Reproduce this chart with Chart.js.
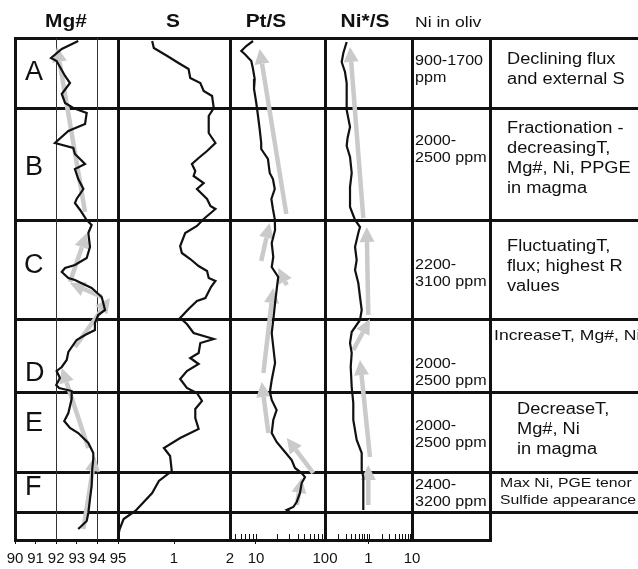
<!DOCTYPE html>
<html>
<head>
<meta charset="utf-8">
<script src="https://cdn.jsdelivr.net/npm/chart.js@4.4.0/dist/chart.umd.min.js"></script>
<style>
  body { margin: 0; background: #fff; }
  #fig { position: relative; width: 638px; height: 569px; overflow: hidden;
         font-family: "Liberation Sans", Arial, sans-serif; color: #111; }
  #fig canvas { position: absolute; left: 0; top: 0; }
  .ln { position: absolute; background: #111; }
  .tx { position: absolute; white-space: nowrap; transform-origin: 0 0; }
  .hd { font-weight: bold; font-size: 18.5px; line-height: 1; width: 80px; text-align: center;
        transform-origin: 50% 0; transform: scaleX(1.13); }
  .big { font-size: 27px; line-height: 1; }
  .oliv { font-size: 14px; line-height: 17px; transform: scaleX(1.15); }
  .desc { font-size: 16px; line-height: 20px; transform: scaleX(1.14); }
</style>
</head>
<body>
<div id="fig">
  <div id="rules"></div>
  <canvas id="mgChart" width="638" height="569"></canvas>
  <canvas id="sChart" width="638" height="569"></canvas>
  <canvas id="ptChart" width="638" height="569"></canvas>
  <canvas id="niChart" width="638" height="569"></canvas>

  <div class="tx hd" style="left:26px;top:12px">Mg#</div>
  <div class="tx hd" style="left:133px;top:12px">S</div>
  <div class="tx hd" style="left:226px;top:12px">Pt/S</div>
  <div class="tx hd" style="left:325px;top:12px">Ni*/S</div>
  <div class="tx" style="left:415px;top:13px;font-size:15px;line-height:1.2;transform:scaleX(1.17)">Ni in oliv</div>

  <div class="tx big" style="left:25px;top:58px">A</div>
  <div class="tx big" style="left:25px;top:153px">B</div>
  <div class="tx big" style="left:24px;top:251px">C</div>
  <div class="tx big" style="left:25px;top:359px">D</div>
  <div class="tx big" style="left:25px;top:409px">E</div>
  <div class="tx big" style="left:25px;top:473px">F</div>

  <div class="tx oliv" style="left:415px;top:52px">900-1700<br>ppm</div>
  <div class="tx oliv" style="left:415px;top:132px">2000-<br>2500 ppm</div>
  <div class="tx oliv" style="left:415px;top:256px">2200-<br>3100 ppm</div>
  <div class="tx oliv" style="left:415px;top:355px">2000-<br>2500 ppm</div>
  <div class="tx oliv" style="left:415px;top:417px">2000-<br>2500 ppm</div>
  <div class="tx oliv" style="left:415px;top:476px">2400-<br>3200 ppm</div>

  <div class="tx desc" style="left:507px;top:49px">Declining flux<br>and external S</div>
  <div class="tx desc" style="left:507px;top:118px">Fractionation -<br>decreasingT,<br>Mg#, Ni, PPGE<br>in magma</div>
  <div class="tx desc" style="left:507px;top:236px">FluctuatingT,<br>flux; highest R<br>values</div>
  <div class="tx" style="left:494px;top:326px;font-size:15px;line-height:18px;transform:scaleX(1.17)">IncreaseT, Mg#, Ni</div>
  <div class="tx desc" style="left:517px;top:399px">DecreaseT,<br>Mg#, Ni<br>in magma</div>
  <div class="tx" style="left:500px;top:475px;font-size:13.5px;line-height:16.7px;transform:scaleX(1.17)">Max Ni, PGE tenor<br>Sulfide appearance</div>
</div>

<script>
// Depth down the section: 0 at the top rule, 502 at the base
const DEPTH_MAX = 502;
const AXIS_H = 24;
const ARROW_GREY = '#cacaca';

// Mg# of olivine
const mgNum = [93.07, 92.27, 91.75, 92.02, 92.43, 92.67, 92.27, 92.43, 92.83, 93.48,
  93.40, 92.59, 91.94, 92.83, 92.91, 93.40, 92.91, 93.07, 93.32, 92.99,
  92.91, 93.16, 93.48, 93.72, 93.56, 93.64, 93.48, 92.91, 92.43, 92.27,
  92.59, 92.91, 93.72, 94.21, 94.37, 94.04, 93.88, 93.88, 93.40, 92.99,
  92.59, 92.51, 92.27, 92.02, 92.18, 92.00, 92.14, 92.75, 92.75, 92.59,
  92.39, 92.67, 93.07, 93.56, 93.80, 93.80, 93.75, 93.72, 93.64, 93.56,
  93.48, 93.07];
const mgDepth = [3, 11, 20, 23, 38, 45, 56, 65, 70, 75,
  86, 93, 105, 110, 116, 126, 131, 141, 151, 161,
  165, 172, 182, 187, 195, 209, 220, 227, 230, 234,
  240, 242, 250, 259, 272, 277, 285, 292, 297, 302,
  314, 322, 329, 333, 340, 347, 350, 353, 361, 375,
  383, 390, 395, 405, 415, 421, 431, 448, 461, 475,
  483, 491];
// [from Mg#, from depth, to Mg#, to depth]
const mgTrends = [[93.40, 174, 92.04, 9], [92.67, 244, 93.48, 195], [94.21, 259, 92.67, 245],
  [92.91, 309, 94.61, 260], [93.56, 410, 92.27, 330], [93.32, 491, 93.88, 418]];

// S content
const sulfur = [0.61, 0.64, 0.88, 1.08, 1.26, 1.29, 1.47, 1.53, 1.68, 1.71,
  1.62, 1.62, 1.74, 1.59, 1.44, 1.32, 1.38, 1.35, 1.53, 1.41,
  1.59, 1.65, 1.74, 1.53, 1.41, 1.20, 1.11, 1.14, 1.29, 1.44,
  1.59, 1.62, 1.74, 1.66, 1.56, 1.41, 1.26, 1.11, 1.23, 1.35,
  1.71, 1.47, 1.44, 1.29, 1.44, 1.23, 1.11, 1.23, 1.41, 1.50,
  1.38, 1.38, 1.44, 1.11, 0.82, 0.93, 0.96, 0.73, 0.61, 0.31,
  0.10, 0.03, 0.01];
const sDepth = [3, 10, 18, 25, 31, 40, 45, 53, 58, 70,
  78, 95, 105, 113, 120, 126, 133, 138, 145, 151,
  161, 168, 171, 181, 188, 195, 208, 215, 221, 228,
  233, 240, 243, 249, 260, 263, 271, 280, 286, 295,
  301, 305, 315, 320, 326, 333, 341, 350, 355, 363,
  371, 380, 391, 400, 410, 418, 433, 443, 455, 473,
  481, 491, 496];

// Pt/S
const ptS = [9.05, 7.23, 6.12, 6.86, 8.55, 9.05, 9.58, 9.36, 10.1, 10.7,
  11.3, 11.9, 11.9, 14.9, 15.8, 17.6, 18.7, 16.7, 17.6, 18.7,
  18.9, 16.9, 17.8, 16.9, 21.0, 19.9, 18.9, 17.8, 16.9, 17.8,
  18.9, 16.9, 15.9, 16.9, 19.9, 17.8, 16.9, 19.9, 24.9, 32.9,
  36.7, 45.9, 51.3, 45.9, 43.4, 38.9, 34.7, 27.9, 32.9];
const ptDepth = [3, 8, 13, 16, 23, 31, 41, 51, 65, 78,
  91, 105, 111, 121, 135, 141, 151, 161, 171, 181,
  192, 205, 219, 229, 239, 252, 265, 282, 295, 309,
  325, 342, 354, 362, 372, 382, 395, 404, 412, 422,
  430, 435, 439, 445, 455, 464, 469, 472, 475];
const ptTrends = [[27.5, 176, 11.3, 11], [11.9, 223, 15.8, 185], [27.9, 247, 21.0, 230],
  [12.8, 335, 17.8, 250], [15.1, 395, 12.1, 344], [67.6, 435, 27.9, 400], [38.9, 467, 45.9, 440]];

// Ni*/S
const niS = [0.315, 0.264, 0.242, 0.288, 0.315, 0.315, 0.315, 0.376, 0.330, 0.315,
  0.376, 0.411, 0.376, 0.376, 0.490, 0.638, 0.583, 0.490, 0.535, 0.490,
  0.583, 0.638, 0.698, 0.638, 0.411, 0.376, 0.411, 0.390, 0.411, 0.447,
  0.447, 0.535, 0.698, 0.698, 0.759, 0.759];
const niDepth = [4, 15, 24, 34, 45, 59, 72, 89, 100, 108,
  119, 135, 149, 169, 182, 189, 195, 209, 222, 232,
  245, 259, 272, 282, 294, 305, 315, 329, 349, 365,
  382, 402, 415, 432, 439, 472];
const niTrends = [[0.759, 180, 0.376, 9], [0.99, 277, 0.909, 189], [0.447, 312, 1.08, 281],
  [1.08, 419, 0.638, 322], [0.99, 467, 0.99, 427]];

// table rules
const rowRules = [38, 108, 220, 319, 392, 472, 512];
const colRules = [15, 118, 230, 325, 412, 490];

const rules = document.getElementById('rules');
function rule(x, y, w, h) {
  const d = document.createElement('div');
  d.className = 'ln';
  d.style.cssText = `left:${x}px;top:${y}px;width:${w}px;height:${h}px`;
  rules.appendChild(d);
}
rowRules.forEach(y => rule(13.5, y - 1.5, 638, 3));
rule(13.5, 538.5, 490 - 12, 3);
colRules.forEach(x => rule(x - 1.5, 36.5, 3, 505));

const tickFont = { family: 'Liberation Sans, Arial, sans-serif', size: 15 };

// trend arrows: shaft + head from the two parsed points
const arrowPlugin = {
  id: 'trendArrows',
  afterDatasetDraw(chart, args) {
    const ds = chart.data.datasets[args.index];
    if (!ds.arrow) return;
    const p0 = args.meta.data[0], p1 = args.meta.data[1];
    const ctx = chart.ctx;
    const ang = Math.atan2(p1.y - p0.y, p1.x - p0.x);
    const headLen = 15, headW = 7.5;
    const bx = p1.x - Math.cos(ang) * headLen, by = p1.y - Math.sin(ang) * headLen;
    ctx.save();
    ctx.strokeStyle = ARROW_GREY;
    ctx.fillStyle = ARROW_GREY;
    ctx.lineWidth = 4.5;
    ctx.beginPath();
    ctx.moveTo(p0.x, p0.y);
    ctx.lineTo(bx, by);
    ctx.stroke();
    ctx.beginPath();
    ctx.moveTo(p1.x, p1.y);
    ctx.lineTo(bx + Math.sin(ang) * headW, by - Math.cos(ang) * headW);
    ctx.lineTo(bx - Math.sin(ang) * headW, by + Math.cos(ang) * headW);
    ctx.closePath();
    ctx.fill();
    ctx.restore();
  }
};

// small inward ticks on the log axes
const minorTicks = {
  id: 'minorTicks',
  afterDraw(chart) {
    const s = chart.scales.x;
    if (s.type !== 'logarithmic') return;
    const ctx = chart.ctx;
    const bottom = chart.chartArea.bottom;
    ctx.save();
    ctx.strokeStyle = '#111';
    ctx.lineWidth = 1;
    s.ticks.forEach(t => {
      const m = t.value / Math.pow(10, Math.floor(Math.log10(t.value) + 1e-9));
      if (Math.abs(m - Math.round(m)) > 1e-6) return;
      const px = Math.round(s.getPixelForValue(t.value)) + 0.5;
      ctx.beginPath();
      ctx.moveTo(px, bottom);
      ctx.lineTo(px, bottom - 6);
      ctx.stroke();
    });
    ctx.restore();
  }
};

function makePanel(id, left, right, xOpts, xs, depths, trends) {
  const datasets = [{
    data: xs.map((v, i) => ({ x: v, y: depths[i] })),
    borderColor: '#111', borderWidth: 2.2, pointRadius: 0, tension: 0, fill: false
  }];
  trends.forEach(a => datasets.push({
    data: [{ x: a[0], y: a[1] }, { x: a[2], y: a[3] }],
    arrow: true, showLine: false, pointRadius: 0
  }));
  const x = Object.assign({
    position: 'bottom',
    border: { display: false },
    afterFit: s => { s.height = AXIS_H; }
  }, xOpts);
  x.ticks = Object.assign({ autoSkip: false, maxRotation: 0, padding: 6, font: tickFont, color: '#111' }, xOpts.ticks);
  return new Chart(document.getElementById(id), {
    type: 'line',
    data: { datasets },
    options: {
      responsive: false,
      animation: false,
      devicePixelRatio: 1,
      layout: { padding: { left: left, right: 638 - right, top: 38, bottom: 569 - 540 - AXIS_H } },
      plugins: { legend: { display: false }, tooltip: { enabled: false } },
      scales: {
        x: x,
        y: { type: 'linear', min: 0, max: DEPTH_MAX, reverse: true, display: false }
      }
    },
    plugins: [arrowPlugin, minorTicks]
  });
}

const hidden = 'rgba(0,0,0,0)';

makePanel('mgChart', 15, 118, {
  type: 'linear', min: 90, max: 95,
  ticks: { stepSize: 1 },
  grid: {
    color: c => (c.tick && (c.tick.value === 92 || c.tick.value === 94)) ? '#333' : hidden,
    lineWidth: 1, tickLength: 4, tickColor: '#111'
  }
}, mgNum, mgDepth, mgTrends);

makePanel('sChart', 118, 230, {
  type: 'linear', min: 0, max: 2,
  ticks: { stepSize: 1, callback: v => v === 0 ? '' : String(v) },
  grid: { drawOnChartArea: false, tickLength: 4, tickColor: c => (c.tick && c.tick.value === 1) ? '#111' : hidden }
}, sulfur, sDepth, []);

makePanel('ptChart', 230, 325, {
  type: 'logarithmic', min: 4.2, max: 100,
  ticks: { callback: v => (v === 10 || v === 100) ? String(v) : '' },
  grid: { drawOnChartArea: false, tickLength: 4, tickColor: c => (c.tick && c.tick.value === 10) ? '#111' : hidden }
}, ptS, ptDepth, ptTrends);

makePanel('niChart', 325, 412, {
  type: 'logarithmic', min: 0.1, max: 10,
  ticks: { callback: v => (v === 1 || v === 10) ? String(v) : '' },
  grid: { drawOnChartArea: false, tickLength: 4, tickColor: c => (c.tick && c.tick.value === 1) ? '#111' : hidden }
}, niS, niDepth, niTrends);
</script>
</body>
</html>
